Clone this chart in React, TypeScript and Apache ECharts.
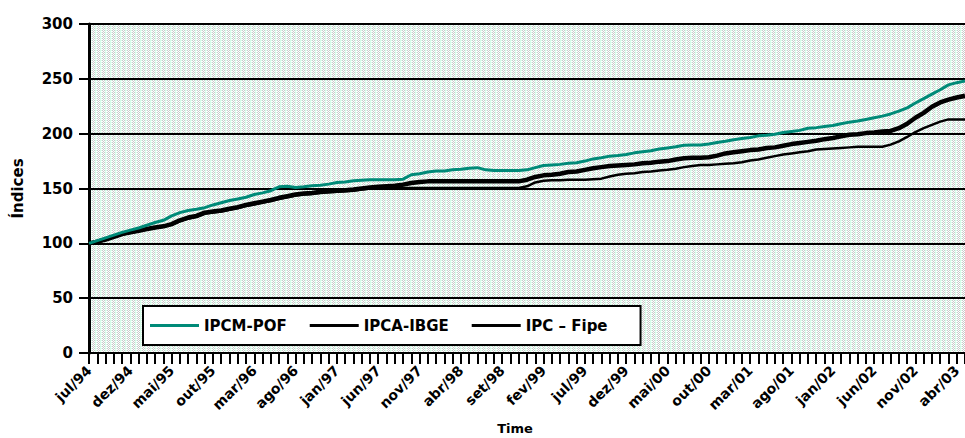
import React, { useEffect, useRef } from "react";
import * as echarts from "echarts";

const MONTHS = ["jan", "fev", "mar", "abr", "mai", "jun", "jul", "ago", "set", "out", "nov", "dez"];
const START_MONTH = 6; // jul
const START_YEAR = 1994;
const N_MONTHS = 107;
const CATEGORIES: string[] = [];
for (let k = 0; k < N_MONTHS; k++) {
  const m = (START_MONTH + k) % 12;
  const y = START_YEAR + Math.floor((START_MONTH + k) / 12);
  CATEGORIES.push(MONTHS[m] + "/" + String(y).slice(2));
}

const SERIES_NAMES = ["IPCM-POF", "IPCA-IBGE", "IPC – Fipe"];

const IPCM_POF = [
  100, 102.5, 105, 107.5, 110, 112, 114, 116.5, 119, 121,
  125, 128, 130, 131, 132.5, 135, 137, 139, 140.5, 142,
  144.5, 146, 148, 151.5, 152, 151, 151.5, 152.5, 153, 154,
  155.5, 156, 157, 157.5, 158, 158, 158, 158, 158.5, 162.5,
  163.5, 165, 166, 166, 167, 167.5, 168.5, 169, 167, 166.5,
  166.5, 166.5, 166.5, 167, 169, 171, 171.5, 172, 173, 173.5,
  175, 177, 178, 179.5, 180, 181, 182.5, 183.5, 184.5, 186,
  187, 188, 189.5, 189.7, 189.7, 190.5, 192, 193, 194.5, 195.5,
  196.5, 198, 198.5, 199.5, 201, 202, 203, 205, 205.5, 206.5,
  207.5, 209, 210.5, 211.5, 213, 214.5, 216, 218, 220.5, 223.5,
  228, 232, 236, 240, 244.5, 246.5, 248,
];

const IPCA_IBGE = [
  100, 101.5, 103.5, 106, 108.5, 110, 111.5, 113, 114.5, 115.5,
  117.5, 121, 123.5, 125, 128, 129, 130, 131.5, 133, 135,
  136.5, 138, 139.5, 141.5, 143, 144.5, 145.5, 146, 147, 147.5,
  148, 148.5, 149, 150, 151, 151.5, 152, 152.5, 153.5, 155,
  156, 156.5, 156.5, 156.5, 156.5, 156.5, 156.5, 156.5, 156.5, 156.5,
  156.5, 156.5, 156.5, 158, 160.5, 162, 162.5, 163.5, 165, 165.5,
  167, 168.5, 169.5, 170.5, 171, 171.5, 172, 173, 173.5, 174.5,
  175, 176.5, 177.5, 178, 178, 178.5, 180, 182, 183, 184,
  185, 185.5, 187, 187.5, 189, 190.5, 191.5, 192.5, 193.5, 195,
  196, 197.5, 199, 199.5, 200.5, 201, 202, 202.5, 205, 209,
  214.5, 219, 224.5, 228.5, 231, 233, 234.5,
];

const IPC_FIPE = [
  100, 101, 103, 105.5, 108, 109.5, 111, 112.5, 114, 115,
  117, 120, 122.5, 124, 127, 128, 129, 130.5, 132, 134,
  135.5, 137, 138.5, 140.5, 142, 143.5, 144.5, 145, 146, 146.5,
  147, 147.5, 148, 149, 150, 150.5, 150.5, 150.5, 150.5, 150.5,
  150.5, 150.5, 150.5, 150.5, 150.5, 150.5, 150.5, 150.5, 150.5, 150.5,
  150.5, 150.5, 150.5, 152, 155.5, 157, 157.5, 157.5, 158, 158,
  158, 158.5, 159, 161, 162.5, 163.5, 164, 165, 165.5, 166.5,
  167, 168, 169.5, 170.5, 171.5, 171.5, 172, 172.5, 173, 174,
  175.5, 176.5, 178, 179.5, 181, 182, 183, 184, 185.5, 186,
  186.5, 187, 187.5, 188, 188, 188, 188, 190, 193, 197,
  201.5, 205, 208, 211, 213, 213, 213,
];

const Y_MIN = 0;
const Y_MAX = 300;
const Y_STEP = 50;

function makePattern(): HTMLCanvasElement {
  const c = document.createElement("canvas");
  c.width = 5;
  c.height = 2;
  const ctx = c.getContext("2d")!;
  const mint = "#d8fcea";
  const grey = "#cacaca";
  const white = "#ffffff";
  const cols = [
    [mint, mint],
    [mint, white],
    [grey, white],
    [white, grey],
    [grey, white],
  ];
  for (let x = 0; x < 5; x++) {
    for (let y = 0; y < 2; y++) {
      ctx.fillStyle = cols[x][y];
      ctx.fillRect(x, y, 1, 1);
    }
  }
  return c;
}

export default function App() {
  const ref = useRef<HTMLDivElement>(null);
  useEffect(() => {
    if (!ref.current) return;
    const chart = echarts.init(ref.current, null, { renderer: "svg" });
    const font = "DejaVu Sans";
    const txt = { fontFamily: font, fontWeight: "bold" as const, fontSize: 15, color: "#000" };
    chart.setOption({
      animation: false,
      backgroundColor: "#ffffff",
      textStyle: { fontFamily: font, color: "#000" },
      grid: {
        left: 89,
        right: 0,
        top: 24,
        bottom: 85,
        show: true,
        borderWidth: 0,
        containLabel: false,
        outerBoundsMode: "none",
        backgroundColor: { image: makePattern(), repeat: "repeat" },
      },
      legend: {
        left: 143,
        top: 306,
        orient: "horizontal",
        data: SERIES_NAMES,
        icon: "rect",
        itemWidth: 49,
        itemHeight: 3,
        itemGap: 23,
        padding: [12, 33, 12, 7],
        backgroundColor: "#ffffff",
        borderColor: "#000",
        borderWidth: 2,
        textStyle: txt,
      },
      xAxis: {
        type: "category",
        data: CATEGORIES,
        boundaryGap: false,
        name: "Time",
        nameLocation: "middle",
        nameGap: 69,
        nameTextStyle: { ...txt, fontSize: 13, padding: [0, 24, 0, 0] },
        axisLine: { show: true, lineStyle: { color: "#000", width: 2 } },
        axisTick: { show: true, interval: 0, length: 11, lineStyle: { color: "#000", width: 2 } },
        axisLabel: {
          interval: 4,
          rotate: 45,
          margin: 15,
          ...txt,
          fontSize: 14,
        },
        splitLine: { show: false },
      },
      yAxis: {
        type: "value",
        min: Y_MIN,
        max: Y_MAX,
        interval: Y_STEP,
        name: "Índices",
        nameLocation: "middle",
        nameGap: 64,
        nameRotate: 90,
        nameTextStyle: txt,
        axisLine: { show: true, lineStyle: { color: "#000", width: 3 } },
        axisTick: { show: true, length: 10, lineStyle: { color: "#000", width: 2 } },
        axisLabel: { margin: 16, ...txt },
        splitLine: { show: true, lineStyle: { color: "#000", width: 2 } },
      },
      series: [
        {
          name: SERIES_NAMES[0],
          type: "line",
          data: IPCM_POF,
          symbol: "none",
          z: 4,
          color: "#008a78",
          lineStyle: { color: "#008a78", width: 3 },
        },
        {
          name: SERIES_NAMES[1],
          type: "line",
          data: IPCA_IBGE,
          symbol: "none",
          z: 3,
          color: "#000",
          lineStyle: { color: "#000", width: 4.5 },
        },
        {
          name: SERIES_NAMES[2],
          type: "line",
          data: IPC_FIPE,
          symbol: "none",
          z: 3,
          color: "#000",
          lineStyle: { color: "#000", width: 2.5 },
        },
      ],
    });
    return () => chart.dispose();
  }, []);
  return <div ref={ref} style={{ width: 965, height: 438, position: "absolute", left: 0, top: 0 }} />;
}
